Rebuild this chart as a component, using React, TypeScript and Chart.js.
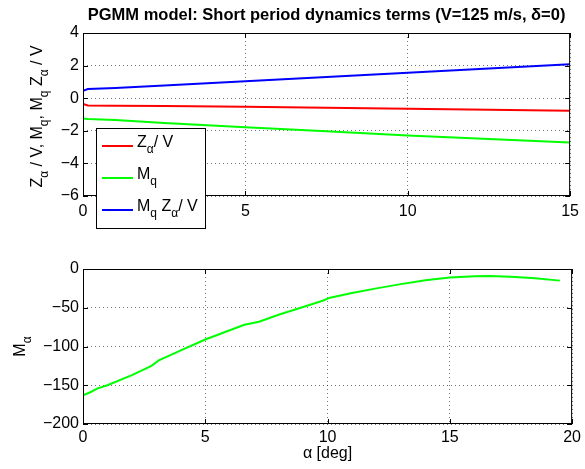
import React, { useEffect, useRef } from 'react';
import { Chart, registerables } from 'chart.js';

Chart.register(...registerables);

const FONT = '"Liberation Sans", Arial, Helvetica, sans-serif';

// ---- Data (top subplot) ----
const alphaTop = [0, 0.15, 1, 2.5, 5, 7.5, 10, 12.5, 15];
const zAlphaOverV = [-0.35, -0.45, -0.46, -0.48, -0.53, -0.59, -0.65, -0.71, -0.77];
const mQ = [-1.25, -1.27, -1.33, -1.52, -1.78, -2.03, -2.29, -2.51, -2.72];
const mQzAlphaOverV = [0.45, 0.56, 0.62, 0.78, 1.04, 1.3, 1.56, 1.82, 2.08];

// ---- Data (bottom subplot) ----
const alphaBot = [0, 0.3, 0.6, 1, 2, 2.8, 3.1, 4, 5, 6, 6.6, 7.2, 8, 9, 9.8, 10.1, 11, 12, 13, 14, 15, 16, 16.6, 17.5, 18.5, 19.5];
const mAlpha = [-163, -159, -154, -150, -137, -125, -118, -105, -91, -79, -72, -68, -59, -49, -41, -37, -31, -25, -19.5, -14.5, -11, -9.5, -9, -10, -12, -15];

// ---- Ticks ----
const topXTicks = [0, 5, 10, 15];
const topYTicks = [-6, -4, -2, 0, 2, 4];
const botXTicks = [0, 5, 10, 15, 20];
const botYTicks = [-200, -150, -100, -50, 0];

const titleText = 'PGMM model: Short period dynamics terms (V=125 m/s, \u03b4=0)';

type Run = { t: string; sub?: boolean };

const legendLabels: Run[][] = [
  [{ t: 'Z' }, { t: '\u03b1', sub: true }, { t: '/ V' }],
  [{ t: 'M' }, { t: 'q', sub: true }],
  [{ t: 'M' }, { t: 'q', sub: true }, { t: ' Z' }, { t: '\u03b1', sub: true }, { t: '/ V' }],
];

const topYLabel: Run[] = [
  { t: 'Z' }, { t: '\u03b1', sub: true }, { t: ' / V, M' }, { t: 'q', sub: true },
  { t: ', M' }, { t: 'q', sub: true }, { t: ' Z' }, { t: '\u03b1', sub: true }, { t: ' / V' },
];
const botYLabel: Run[] = [{ t: 'M' }, { t: '\u03b1', sub: true }];
const botXLabel = '\u03b1 [deg]';

function drawRich(ctx: CanvasRenderingContext2D, runs: Run[], x: number, y: number, size: number, align: 'left' | 'center') {
  const subSize = Math.round(size * 0.72);
  let w = 0;
  for (const r of runs) {
    ctx.font = `${r.sub ? subSize : size}px ${FONT}`;
    w += ctx.measureText(r.t).width;
  }
  let cx = align === 'center' ? x - w / 2 : x;
  ctx.textAlign = 'left';
  ctx.textBaseline = 'alphabetic';
  for (const r of runs) {
    ctx.font = `${r.sub ? subSize : size}px ${FONT}`;
    ctx.fillText(r.t, cx, r.sub ? y + size * 0.38 : y);
    cx += ctx.measureText(r.t).width;
  }
}

const minus = (v: number) => (v < 0 ? '\u2212' + Math.abs(v) : String(v));

function makeFramePlugin(extra: (chart: any, ctx: CanvasRenderingContext2D) => void) {
  return {
    id: 'matlabFrame',
    afterDraw(chart: any) {
      const { ctx, chartArea } = chart;
      const { left, right, top, bottom } = chartArea;
      const xs = chart.scales.x;
      const ys = chart.scales.y;
      ctx.save();
      ctx.strokeStyle = '#000';
      ctx.lineWidth = 1;
      ctx.strokeRect(left + 0.5, top + 0.5, right - left - 1, bottom - top - 1);
      const tl = 5;
      ctx.beginPath();
      xs.ticks.forEach((t: any) => {
        const px = Math.round(xs.getPixelForValue(t.value)) + 0.5;
        ctx.moveTo(px, bottom);
        ctx.lineTo(px, bottom - tl);
        ctx.moveTo(px, top);
        ctx.lineTo(px, top + tl);
      });
      ys.ticks.forEach((t: any) => {
        const py = Math.round(ys.getPixelForValue(t.value)) + 0.5;
        ctx.moveTo(left, py);
        ctx.lineTo(left + tl, py);
        ctx.moveTo(right, py);
        ctx.lineTo(right - tl, py);
      });
      ctx.stroke();
      ctx.fillStyle = '#000';
      extra(chart, ctx);
      ctx.restore();
    },
  };
}

function axisOpts(ticksArr: number[], min: number, max: number, fitSize: number, isX: boolean, padding: number) {
  return {
    type: 'linear' as const,
    min,
    max,
    afterBuildTicks: (s: any) => {
      s.ticks = ticksArr.map((v) => ({ value: v }));
    },
    afterFit: (s: any) => {
      if (isX) s.height = fitSize;
      else s.width = fitSize;
    },
    grid: {
      display: true,
      drawTicks: false,
      color: 'rgba(0,0,0,0.55)',
      lineWidth: 1,
    },
    border: { display: false, dash: [1, 3] },
    ticks: {
      padding,
      color: '#000',
      font: { family: FONT, size: 16 },
      maxRotation: 0,
      autoSkip: false,
      callback: (v: any) => minus(Number(v)),
    },
  };
}

const App: React.FC = () => {
  const topRef = useRef<HTMLCanvasElement>(null);
  const botRef = useRef<HTMLCanvasElement>(null);

  useEffect(() => {
    const toXY = (xs: number[], ys: number[]) => xs.map((x, i) => ({ x, y: ys[i] }));

    const topPlugin = makeFramePlugin((chart, ctx) => {
      const { left, right, top, bottom } = chart.chartArea;
      // title
      ctx.font = `bold 16.5px ${FONT}`;
      ctx.textAlign = 'center';
      ctx.textBaseline = 'alphabetic';
      ctx.fillText(titleText, (left + right) / 2, 20);
      // y label
      ctx.save();
      ctx.translate(42, (top + bottom) / 2 + 2);
      ctx.rotate(-Math.PI / 2);
      drawRich(ctx, topYLabel, 0, 0, 16, 'center');
      ctx.restore();
      // legend
      const bx = 96, by = 128, bw = 109, bh = 100;
      ctx.fillStyle = '#fff';
      ctx.fillRect(bx, by, bw, bh);
      ctx.strokeStyle = '#000';
      ctx.lineWidth = 1;
      ctx.strokeRect(bx + 0.5, by + 0.5, bw, bh);
      chart.data.datasets.forEach((ds: any, i: number) => {
        const y = 146 + i * 32;
        ctx.strokeStyle = ds.borderColor;
        ctx.lineWidth = 2;
        ctx.beginPath();
        ctx.moveTo(102, y);
        ctx.lineTo(133, y);
        ctx.stroke();
        ctx.fillStyle = '#000';
        drawRich(ctx, legendLabels[i], 137, y + 1, 16, 'left');
      });
    });

    const botPlugin = makeFramePlugin((chart, ctx) => {
      const { left, right, top, bottom } = chart.chartArea;
      ctx.save();
      ctx.translate(25, (top + bottom) / 2);
      ctx.rotate(-Math.PI / 2);
      drawRich(ctx, botYLabel, 0, 0, 16, 'center');
      ctx.restore();
      ctx.font = `16px ${FONT}`;
      ctx.textAlign = 'center';
      ctx.textBaseline = 'alphabetic';
      ctx.fillText(botXLabel, (left + right) / 2, 218);
    });

    const common = {
      animation: false as const,
      responsive: false,
      devicePixelRatio: 1,
      plugins: { legend: { display: false }, tooltip: { enabled: false }, title: { display: false } },
      elements: { point: { radius: 0 }, line: { borderWidth: 2, tension: 0 } },
    };

    const top = new Chart(topRef.current!, {
      type: 'line',
      data: {
        datasets: [
          { data: toXY(alphaTop, zAlphaOverV), borderColor: '#ff0000', backgroundColor: '#ff0000' },
          { data: toXY(alphaTop, mQ), borderColor: '#00ff00', backgroundColor: '#00ff00' },
          { data: toXY(alphaTop, mQzAlphaOverV), borderColor: '#0000ff', backgroundColor: '#0000ff' },
        ],
      },
      options: {
        ...common,
        layout: { padding: { top: 33, right: 11, left: 0, bottom: 0 } },
        scales: {
          x: axisOpts(topXTicks, 0, 15, 44, true, 6),
          y: axisOpts(topYTicks, -6, 4, 83, false, 4),
        },
      } as any,
      plugins: [topPlugin],
    });

    const bot = new Chart(botRef.current!, {
      type: 'line',
      data: {
        datasets: [
          { data: toXY(alphaBot, mAlpha), borderColor: '#00ff00', backgroundColor: '#00ff00' },
        ],
      },
      options: {
        ...common,
        layout: { padding: { top: 29, right: 11, left: 0, bottom: 0 } },
        scales: {
          x: axisOpts(botXTicks, 0, 20, 45, true, 4),
          y: axisOpts(botYTicks, -200, 0, 83, false, 4),
        },
      } as any,
      plugins: [botPlugin],
    });

    return () => {
      top.destroy();
      bot.destroy();
    };
  }, []);

  return (
    <div style={{ position: 'absolute', left: 0, top: 0, width: 585, height: 469, background: '#fff' }}>
      <canvas ref={topRef} width={585} height={240} style={{ position: 'absolute', left: 0, top: 0, width: 585, height: 240 }} />
      <canvas ref={botRef} width={585} height={229} style={{ position: 'absolute', left: 0, top: 240, width: 585, height: 229 }} />
    </div>
  );
};

export default App;
